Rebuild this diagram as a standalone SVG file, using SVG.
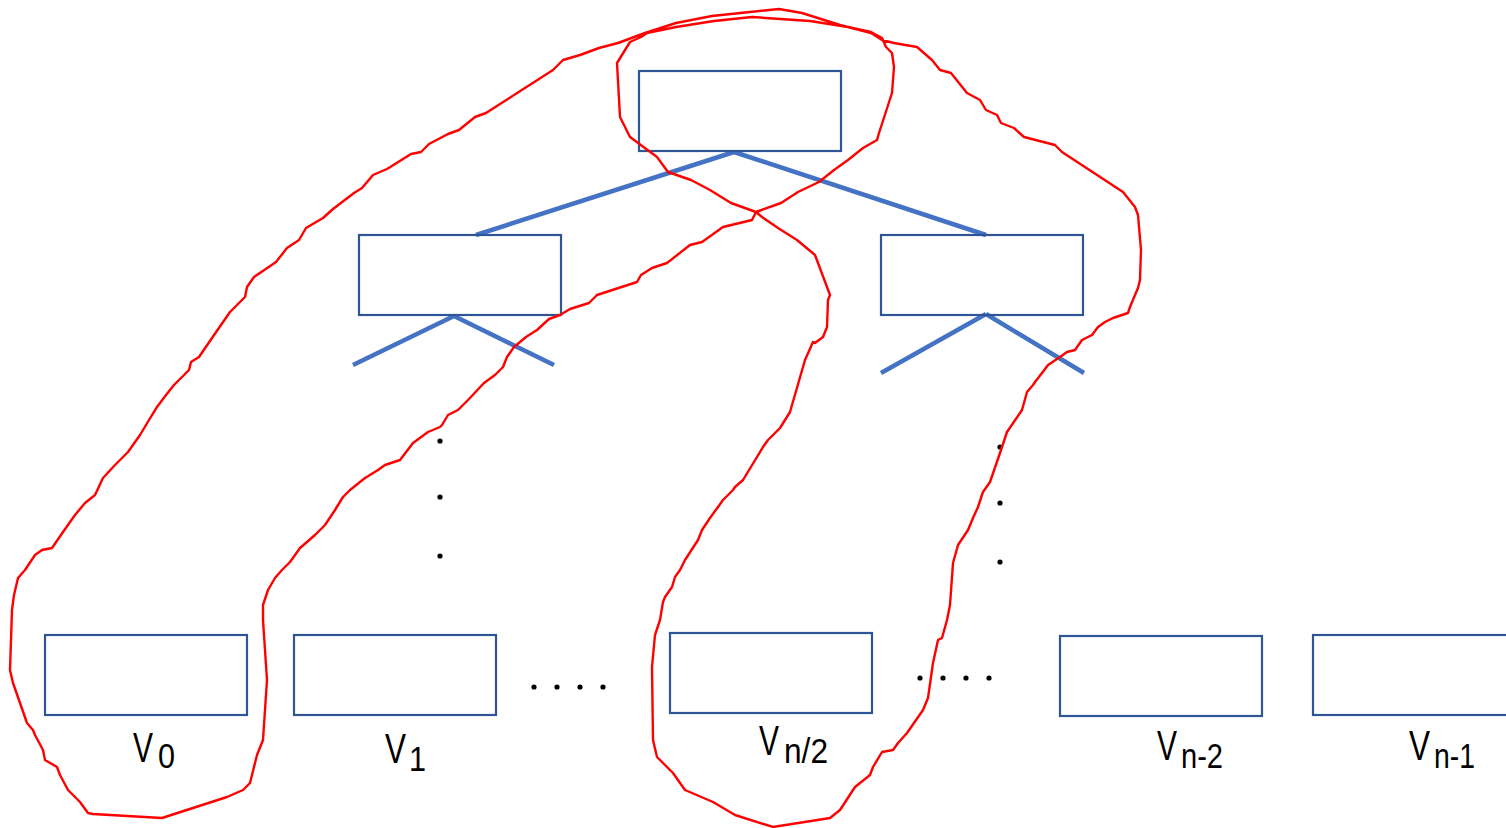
<svg xmlns="http://www.w3.org/2000/svg" width="1506" height="828" viewBox="0 0 1506 828">
<style>
.box{fill:none;stroke:#2F5597;stroke-width:2.2}
.edge{stroke:#4472C4;stroke-width:4.5;fill:none}
.red{fill:none;stroke:#FF0000;stroke-width:2.4;stroke-linejoin:round;stroke-linecap:round}
.lbl{font-family:"Liberation Sans Narrow","Liberation Sans",Arial,sans-serif;fill:#000;font-size:43px}
.sub{font-family:"Liberation Sans",Arial,sans-serif;font-size:35px}
.dot{fill:#000}
</style>
<rect width="1506" height="828" fill="#fff"/>
<g id="connectors">
<line class="edge" x1="734" y1="152" x2="476" y2="235"/>
<line class="edge" x1="734" y1="152" x2="986" y2="235"/>
<line class="edge" x1="454" y1="316" x2="353" y2="365"/>
<line class="edge" x1="454" y1="316" x2="554" y2="365"/>
<line class="edge" x1="986" y1="314" x2="881" y2="373"/>
<line class="edge" x1="986" y1="314" x2="1084" y2="373"/>
</g>
<g id="root"><rect class="box" x="639" y="71" width="202" height="80"/></g>
<g id="mid-left"><rect class="box" x="359" y="235" width="202" height="80"/></g>
<g id="mid-right"><rect class="box" x="881" y="235" width="202" height="80"/></g>
<g id="v0"><rect class="box" x="45" y="635" width="202" height="80"/>
<text class="lbl" x="133" y="762"><tspan textLength="20" lengthAdjust="spacingAndGlyphs">V</tspan><tspan class="sub" x="158" y="768" textLength="17" lengthAdjust="spacingAndGlyphs">0</tspan></text></g>
<g id="v1"><rect class="box" x="294" y="635" width="202" height="80"/>
<text class="lbl" x="385" y="763"><tspan textLength="21" lengthAdjust="spacingAndGlyphs">V</tspan><tspan class="sub" x="409" y="771" textLength="17" lengthAdjust="spacingAndGlyphs">1</tspan></text></g>
<g id="vn2"><rect class="box" x="670" y="633" width="202" height="80"/>
<text class="lbl" x="759" y="755"><tspan textLength="20" lengthAdjust="spacingAndGlyphs">V</tspan><tspan class="sub" x="784" y="763" textLength="44" lengthAdjust="spacingAndGlyphs">n/2</tspan></text></g>
<g id="vnm2"><rect class="box" x="1060" y="636" width="202" height="80"/>
<text class="lbl" x="1157" y="760"><tspan textLength="20" lengthAdjust="spacingAndGlyphs">V</tspan><tspan class="sub" x="1181" y="768" textLength="42" lengthAdjust="spacingAndGlyphs">n-2</tspan></text></g>
<g id="vnm1"><rect class="box" x="1313" y="635" width="200" height="80"/>
<text class="lbl" x="1409" y="760"><tspan textLength="21" lengthAdjust="spacingAndGlyphs">V</tspan><tspan class="sub" x="1434" y="768" textLength="41" lengthAdjust="spacingAndGlyphs">n-1</tspan></text></g>
<g id="dots">
<circle class="dot" cx="440" cy="441" r="2.6"/><circle class="dot" cx="440" cy="497" r="2.6"/><circle class="dot" cx="440" cy="556" r="2.6"/>
<circle class="dot" cx="1000" cy="447" r="2.6"/><circle class="dot" cx="1000" cy="503" r="2.6"/><circle class="dot" cx="1000" cy="562" r="2.6"/>
<circle class="dot" cx="534" cy="687" r="2.6"/><circle class="dot" cx="557" cy="687" r="2.6"/><circle class="dot" cx="580" cy="687" r="2.6"/><circle class="dot" cx="603" cy="687" r="2.6"/>
<circle class="dot" cx="920" cy="678" r="2.6"/><circle class="dot" cx="943" cy="678" r="2.6"/><circle class="dot" cx="966" cy="678" r="2.6"/><circle class="dot" cx="989" cy="678" r="2.6"/>
</g>
<g id="outline">
<path class="red" d="M645,33 L676,23 L712,16 L779,9 L802,13 L840,25 L871,33 L882,40 L894,43 L917,47 L932,60 L940,70 L951,73 L959,83 L967,93 L980,100 L986,110 L997,115 L1001,123 L1014,128 L1024,137 L1055,145 L1062,152 L1123,192 L1135,207 L1138,215 L1141,250 L1140,280 L1138,288 L1135,295 L1130,307 L1128,313 L1113,318 L1105,322 L1098,327 L1092,335 L1082,340 L1075,350 L1067,352 L1060,357 L1048,365 L1042,373 L1035,382 L1033,385 L1027,392 L1022,410 L1007,432 L1000,453 L990,482 L983,492 L978,507 L973,518 L968,530 L958,545 L953,563 L950,605 L947,620 L942,638 L938,640 L933,663 L928,698 L923,710 L907,733 L898,743 L893,750 L882,752 L873,767 L870,775 L855,787 L840,810 L830,818 L773,827 L735,815 L713,802 L692,793 L685,790 L673,773 L657,757 L653,740 L652,667 L655,635 L660,620 L663,602 L665,597 L672,587 L675,577 L680,570 L685,560 L698,540 L702,530 L710,518 L718,507 L723,500 L733,490 L735,487 L743,480 L763,447 L768,440 L780,428 L790,412 L805,360 L813,342 L815,343 L823,337 L827,327 L828,300 L830,295 L815,255 L797,240 L778,228 L762,217 L756,212 L731,203 L710,190 L691,180 L668,172 L657,157 L630,137 L620,117 L617,63 L630,42 L641,37 L647,33 L676,27 L714,21 L752,17 L810,21 L848,27 L871,32 L882,38 L886,47 L892,53 L894,67 L892,93 L879,133 L877,140 L863,148 L848,160 L834,170 L819,182 L798,192 L781,203 L756,212 L752,220 L723,227 L702,242 L690,245 L667,263 L652,268 L641,275 L637,282 L597,295 L589,303 L570,309 L560,315 L549,319 L537,330 L526,337 L514,347 L507,357 L503,367 L495,375 L484,383 L468,400 L458,410 L448,415 L442,425 L440,427 L428,432 L413,443 L400,460 L385,465 L378,470 L365,478 L350,490 L343,497 L335,510 L325,525 L315,535 L300,548 L290,562 L282,570 L275,578 L268,590 L263,605 L263,620 L267,680 L263,740 L257,755 L250,783 L243,790 L227,797 L162,818 L93,814 L88,813 L80,802 L68,790 L60,775 L57,767 L45,760 L43,750 L35,735 L33,730 L27,723 L13,683 L10,670 L11,640 L12,610 L14,595 L18,578 L25,570 L35,555 L42,550 L52,548 L63,532 L75,515 L85,503 L95,495 L103,478 L115,465 L128,452 L140,435 L149,420 L157,407 L166,395 L174,385 L189,370 L191,362 L199,357 L212,338 L230,312 L245,297 L247,287 L254,277 L276,262 L287,248 L299,240 L306,228 L323,218 L333,209 L354,193 L362,188 L373,175 L387,169 L411,154 L421,152 L429,144 L448,134 L459,130 L475,117 L486,113 L553,70 L563,60 L580,55 L599,48 L618,43 Z"/>
</g>
</svg>
